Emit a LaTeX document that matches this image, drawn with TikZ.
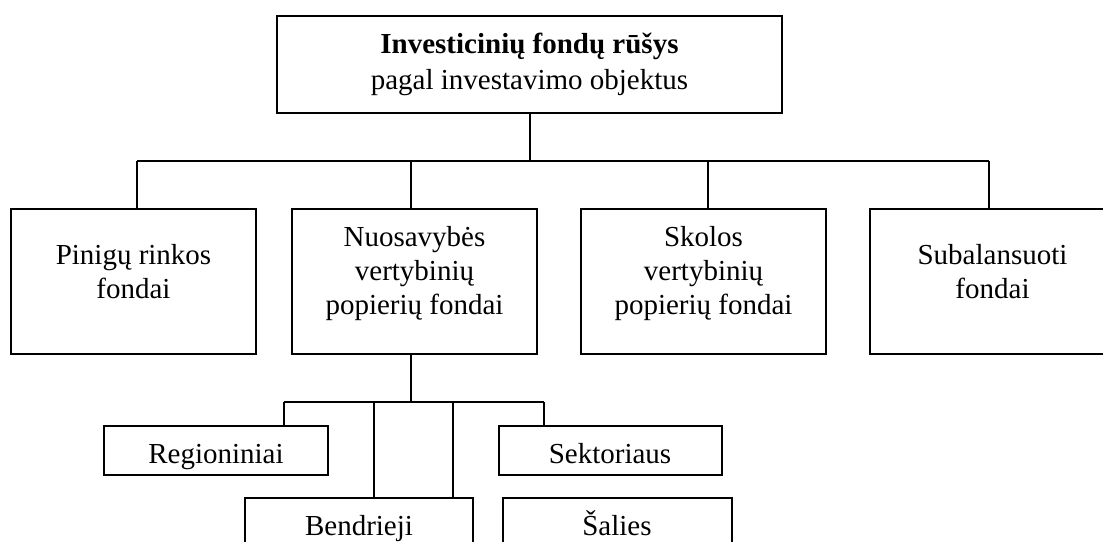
\documentclass[tikz,border=0pt]{standalone}
\usepackage{fontspec}
\setmainfont{Liberation Serif}
\begin{document}
\begin{tikzpicture}[x=0.75pt,y=-0.75pt,
  boxst/.style={draw, line width=1.2pt, inner sep=0pt},
  mainbox/.style={boxst, minimum width=183.75pt, minimum height=108.75pt},
  smallbox/.style={boxst, minimum height=36.75pt},
  txt/.style={inner sep=0pt, align=center, font=\fontsize{21.75}{25.5}\selectfont},
  conn/.style={line width=1.2pt}]
\useasboundingbox (0,0) rectangle (1103,542);
% boxes
\node[boxst, minimum width=378.75pt, minimum height=72.75pt] (top) at (529.5,64.5) {};
\node[mainbox] (b1) at (133.5,281.5) {};
\node[mainbox] (b2) at (414.5,281.5) {};
\node[mainbox] (b3) at (703.5,281.5) {};
\node[mainbox] (b4) at (992.5,281.5) {};
\node[smallbox, minimum width=168pt] (reg) at (216,450.5) {};
\node[smallbox, minimum width=167.25pt] (sek) at (610.5,450.5) {};
\node[smallbox, minimum width=171pt, minimum height=37.5pt] (ben) at (359,523) {};
\node[smallbox, minimum width=171.75pt, minimum height=37.5pt] (sal) at (617.5,523) {};
% texts
\node[txt, font=\fontsize{21.75}{27}\selectfont] (ttop) at (top.center) {\textbf{Investicinių fondų rūšys}\\pagal investavimo objektus};
\node[txt, yshift=7.1pt] (t1) at (b1.center) {Pinigų rinkos\\fondai};
\node[txt, yshift=6pt] (t2) at (b2.center) {Nuosavybės\\vertybinių\\popierių fondai};
\node[txt, yshift=6pt] (t3) at (b3.center) {Skolos\\vertybinių\\popierių fondai};
\node[txt, yshift=7.1pt] (t4) at (b4.center) {Subalansuoti\\fondai};
\node[txt, anchor=base] (treg) at (216,463) {Regioniniai};
\node[txt, anchor=base] (tsek) at (610,463) {Sektoriaus};
\node[txt, anchor=base] (tben) at (359,535) {Bendrieji};
\node[txt, anchor=base] (tsal) at (617,535) {Šalies};
% upper connectors
\coordinate (d0) at (530,161);
\coordinate (d1) at (137,161);
\coordinate (d2) at (411,161);
\coordinate (d3) at (708,161);
\coordinate (d4) at (989,161);
\draw[conn] (top.south -| d0) -- (d0);
\draw[conn] (d1) -- (d4);
\draw[conn] (d1) -- (d1 |- b1.north);
\draw[conn] (d2) -- (d2 |- b2.north);
\draw[conn] (d3) -- (d3 |- b3.north);
\draw[conn] (d4) -- (d4 |- b4.north);
% lower connectors
\coordinate (e0) at (411,402);
\coordinate (e1) at (284,402);
\coordinate (e2) at (374,402);
\coordinate (e3) at (453,402);
\coordinate (e4) at (544,402);
\draw[conn] (b2.south -| e0) -- (e0);
\draw[conn] (e1) -- (e4);
\draw[conn] (e1) -- (e1 |- reg.north);
\draw[conn] (e2) -- (e2 |- ben.north);
\draw[conn] (e3) -- (e3 |- ben.north);
\draw[conn] (e4) -- (e4 |- sek.north);
\end{tikzpicture}
\end{document}
